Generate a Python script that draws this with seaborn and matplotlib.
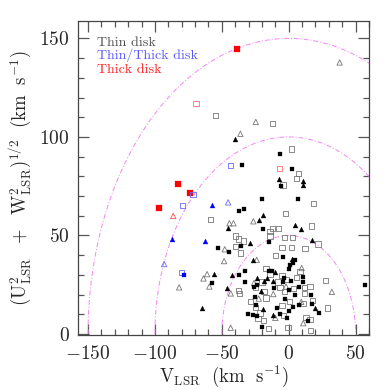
import numpy as np
import pandas as pd
import seaborn as sns
from matplotlib import pyplot as plt
from matplotlib.ticker import MultipleLocator

# Toomre diagram, V_LSR vs sqrt(U^2 + W^2), values in km/s

# thin disk
thin_fsq_x = [-34.6, -6.5, 2.5, -5.5, -20.2, 6.9, -36.9, -33.1, -52.5, -35.6, -44.3, -57.2,
              -36.9, -32.8, -32.4, -30.4, 57.2, -18.9, -14.5, -4.5, 4.7, 3.4, 1.0, 0.0,
              -15.0, -12.5, -3.5, 2.0, 10.9, 10.9, -23.4, -4.5, -11.0, 0.5, 7.9, 4.9,
              16.9, -25.4, -3.0, 17.4, -24.4, -9.0, 2.9, 7.9, 22.4, -26.9, -23.4, -6.5,
              0.5, 14.4, -19.9, -25.9, -1.5]
thin_fsq_y = [85.7, 91.5, 83.9, 75.1, 68.3, 68.3, 62.6, 63.4, 43.8, 44.8, 41.8, 25.7,
              30.1, 32.0, 26.2, 10.1, 24.7, 53.5, 46.7, 38.9, 37.7, 36.1, 34.9, 32.8,
              31.8, 31.8, 28.5, 26.8, 28.8, 26.4, 25.1, 26.4, 23.4, 22.4, 23.7, 19.7,
              20.0, 18.6, 18.0, 15.3, 14.6, 13.2, 13.6, 14.6, 10.9, 9.9, 9.0, 10.2,
              11.5, 6.5, 3.4, 24.0, 8.0]

thin_ftri_x = [-40.2, -7.5, 10.9, 10.4, -19.2, -21.9, 4.5, 8.9, -45.1, -28.9, 17.4, -55.5,
               -42.1, -64.9, -46.3, -23.4, -26.9, 2.4, -10.0, -16.5, -18.4, -12.0, -20.9,
               -18.9, 19.9, -12.0]
thin_ftri_y = [99.0, 78.8, 77.6, 75.4, 60.4, 57.8, 55.1, 53.5, 53.9, 46.2, 47.9, 30.4,
               30.1, 13.2, 23.1, 28.6, 37.7, 38.2, 31.5, 28.5, 27.1, 27.1, 21.7,
               12.6, 13.2, 9.5]

thin_osq_x = [-55.0, -12.2, 2.2, 7.2, 5.7, -4.3, 18.7, -2.2, 16.9, -58.5, -39.6, -37.8,
              -33.6, -39.6, -36.1, -37.3, -36.9, -14.0, -12.0, -7.5, -3.0, 2.9, 21.9,
              -14.0, 2.2, -5.0, 12.2, -10.0, 8.4, -17.0, -14.0, -5.0, -1.5, 5.9, -19.9,
              -8.0, -6.5, 3.9, 11.9, 15.9, 27.8, -18.4, -3.0, 11.9, -17.0, 0.5, 10.9,
              17.9, -28.4, -5.0, 28.8, -21.4, -4.0, 12.9, 15.9, -18.9, -14.9, -0.5,
              16.4, -24.9, -23.0, -24.9]
thin_osq_y = [110.8, 106.9, 93.9, 81.3, 79.1, 75.6, 66.3, 61.0, 54.8, 58.3, 49.7, 48.2,
              47.2, 44.6, 41.1, 22.0, 20.6, 52.1, 53.5, 53.5, 49.1, 49.1, 45.7,
              49.7, 43.7, 43.7, 43.3, 39.9, 31.8, 33.2, 30.5, 29.8, 27.8, 28.5, 26.4,
              26.4, 23.7, 23.0, 23.7, 24.1, 27.1, 21.4, 21.7, 20.7, 18.3, 16.3, 15.3,
              17.0, 16.3, 14.6, 13.2, 10.7, 9.5, 8.5, 7.2, 6.8, 2.8, 3.4,
              1.7, 23.7, 7.8, 13.5]

thin_otri_x = [-36.1, -24.6, 38.1, -44.3, -41.3, -26.4, -81.9, -47.8, -48.3, -61.0, -63.7,
               -59.3, -43.3, -43.4, -23.9, 9.7, -25.9, -2.0, 32.3, -11.5, -22.4, 9.4,
               -10.0, 10.9]
thin_otri_y = [101.6, 107.6, 137.8, 56.2, 56.2, 57.2, 23.7, 43.0, 37.0, 30.4, 28.2,
               24.1, 20.6, 3.2, 37.6, 33.5, 25.9, 24.1, 21.4, 20.3, 18.0, 16.3,
               8.2, 5.5]

# thin/thick disk
mid_osq_x = [-71.6, -79.6, -43.3, -80.1]
mid_osq_y = [70.7, 65.4, 85.6, 31.1]
mid_fsq_x = [-78.4]
mid_fsq_y = [30.1]
mid_ftri_x = [-57.0, -87.1, -62.2]
mid_ftri_y = [65.6, 48.0, 47.2]
mid_otri_x = [-45.3, -93.1]
mid_otri_y = [66.8, 35.5]

# thick disk
thick_fsq_x = [-38.4, -82.8, -73.4, -96.8]
thick_fsq_y = [144.6, 75.9, 71.7, 63.9]
thick_osq_x = [-69.3, -6.7]
thick_osq_y = [116.8, 84.1]
thick_otri_x = [-86.3]
thick_otri_y = [59.9]

radii = [50, 100, 150]

legend_labels = ["Thin disk", "Thin/Thick disk", "Thick disk"]
legend_colors = ["#505050", "#5a5aff", "#ff2020"]

sns.set_style("ticks")
plt.rcParams["font.family"] = ["cmr10", "DejaVu Serif"]
plt.rcParams["mathtext.fontset"] = "cm"
plt.rcParams["axes.formatter.use_mathtext"] = True

fig = plt.figure(figsize=(3.9, 3.9), dpi=100)
ax = fig.add_axes([0.2, 0.141, 0.746, 0.805])

#velocity circles
theta = np.linspace(np.pi, 0, 400)
for r in radii:
    circ = pd.DataFrame({"x": r * np.cos(theta), "y": r * np.sin(theta)})
    sns.lineplot(data=circ, x="x", y="y", sort=False, estimator=None, ax=ax,
                 color="#f585f5", lw=0.7, linestyle=(0, (5, 2, 1, 2)), zorder=1)


def draw(xs, ys, marker, color, filled, size):
    if filled:
        sns.scatterplot(x=xs, y=ys, marker=marker, color=color, s=size,
                        edgecolor=color, linewidth=0.2, ax=ax, zorder=3)
    else:
        sns.scatterplot(x=xs, y=ys, marker=marker, color=color, s=size,
                        facecolor="none", edgecolor=color, linewidth=0.6, ax=ax, zorder=3)


draw(thin_osq_x, thin_osq_y, "s", "#777777", False, 14)
draw(thin_otri_x, thin_otri_y, "^", "#777777", False, 15)
draw(thin_fsq_x, thin_fsq_y, "s", "black", True, 11)
draw(thin_ftri_x, thin_ftri_y, "^", "black", True, 13)
draw(thick_fsq_x, thick_fsq_y, "s", "#ff0000", True, 14)
draw(thick_osq_x, thick_osq_y, "s", "#ff7070", False, 14)
draw(thick_otri_x, thick_otri_y, "^", "#ff5050", False, 15)
draw(mid_osq_x, mid_osq_y, "s", "#6a6aff", False, 14)
draw(mid_otri_x, mid_otri_y, "^", "#6a6aff", False, 15)
draw(mid_fsq_x, mid_fsq_y, "s", "#0000ff", True, 11)
draw(mid_ftri_x, mid_ftri_y, "^", "#0000ff", True, 13)

ax.set_xlim(-157.5, 60)
ax.set_ylim(-0.5, 158.8)
ax.xaxis.set_major_locator(MultipleLocator(50))
ax.xaxis.set_minor_locator(MultipleLocator(10))
ax.yaxis.set_major_locator(MultipleLocator(50))
ax.yaxis.set_minor_locator(MultipleLocator(10))
ax.tick_params(which="both", direction="in", top=True, right=True,
               color="#555555", width=0.9, labelsize=14)
ax.tick_params(which="major", length=8)
ax.tick_params(which="minor", length=4)
ax.tick_params(axis="x", pad=7)
ax.tick_params(axis="y", pad=6)
for sp in ax.spines.values():
    sp.set_color("#444444")
    sp.set_linewidth(0.9)

ax.set_xlabel(r"$\mathrm{V_{LSR}}\ \ (\mathrm{km\ \ s^{-1}})$", fontsize=13.5, labelpad=1)
ax.set_ylabel(r"$(\mathrm{U^2_{LSR}}\ \ +\ \ \mathrm{W^2_{LSR}})^{1/2}\ \ (\mathrm{km\ \ s^{-1}})$",
              fontsize=13.5, labelpad=4)

#legend texts, stacked
for i, (lab, col) in enumerate(zip(legend_labels, legend_colors)):
    ax.text(0.067, 0.922 - i * 0.044, lab, color=col, fontsize=10,
            transform=ax.transAxes, va="baseline")

fig.savefig("out.png", dpi=100)
